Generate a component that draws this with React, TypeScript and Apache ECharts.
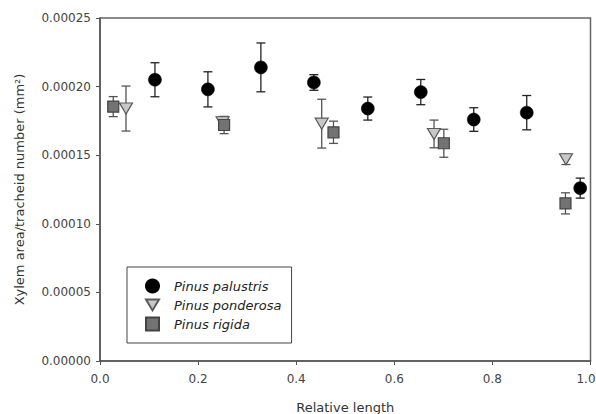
import React, { useEffect, useRef } from "react";
import * as echarts from "echarts";

const xTicks = [0, 0.2, 0.4, 0.6, 0.8, 1.0];
const yTicks = [0, 0.00005, 0.0001, 0.00015, 0.0002, 0.00025];

const palustrisX = [0.112, 0.22, 0.328, 0.436, 0.546, 0.654, 0.762, 0.87, 0.979];
const palustrisY = [0.000205, 0.000198, 0.000214, 0.000203, 0.000184, 0.000196, 0.000176, 0.000181, 0.000126];
const palustrisErr = [0.0000124, 0.0000128, 0.0000178, 0.0000057, 0.0000084, 0.0000092, 0.0000086, 0.0000125, 0.0000073];

const ponderosaX = [0.053, 0.25, 0.452, 0.681, 0.95];
const ponderosaY = [0.000184, 0.000174, 0.000173, 0.0001655, 0.000147];
const ponderosaErr = [0.0000164, 0.000004, 0.0000178, 0.0000101, 0.0000038];

const rigidaX = [0.027, 0.253, 0.476, 0.701, 0.949];
const rigidaY = [0.0001854, 0.000172, 0.0001667, 0.0001587, 0.0001149];
const rigidaErr = [0.0000073, 0.0000063, 0.0000081, 0.0000102, 0.0000077];

const seriesNames = ["Pinus palustris", "Pinus ponderosa", "Pinus rigida"];

const FONT = "DejaVu Sans";
const TRI_DOWN = "path://M0,0 L12,0 L6,10 Z";

function errData(xs: number[], ys: number[], es: number[]) {
  return xs.map((x, i) => [x, ys[i] - es[i], ys[i] + es[i]]);
}

function errSeries(data: number[][], color: string) {
  return {
    type: "custom",
    z: 1,
    silent: true,
    encode: { x: 0, y: [1, 2] },
    data,
    renderItem: (params: any, api: any) => {
      const x = api.value(0);
      const lo = api.coord([x, api.value(1)]);
      const hi = api.coord([x, api.value(2)]);
      const hw = 4.5;
      const style = { stroke: color, lineWidth: 1.3 };
      return {
        type: "group",
        children: [
          { type: "line", shape: { x1: lo[0], y1: lo[1], x2: hi[0], y2: hi[1] }, style },
          { type: "line", shape: { x1: lo[0] - hw, y1: lo[1], x2: lo[0] + hw, y2: lo[1] }, style },
          { type: "line", shape: { x1: hi[0] - hw, y1: hi[1], x2: hi[0] + hw, y2: hi[1] }, style },
        ],
      };
    },
  };
}

export default function App() {
  const ref = useRef<HTMLDivElement>(null);
  useEffect(() => {
    if (!ref.current) return;
    const chart = echarts.init(ref.current, undefined, { renderer: "svg" });
    const lastX = xTicks[xTicks.length - 1];
    chart.setOption({
      animation: false,
      backgroundColor: "#ffffff",
      grid: {
        left: 100,
        right: 5.5,
        top: 18,
        bottom: 53,
        containLabel: false,
        outerBoundsMode: "none",
        show: true,
        borderColor: "#666",
        borderWidth: 1.5,
      },
      legend: {
        orient: "vertical",
        left: 127,
        top: 267,
        padding: [11.5, 10, 11.5, 18],
        itemWidth: 13,
        itemHeight: 13,
        itemGap: 5,
        backgroundColor: "#fff",
        borderColor: "#444",
        borderWidth: 1,
        data: seriesNames,
        textStyle: {
          fontFamily: FONT,
          fontStyle: "italic",
          fontSize: 13,
          color: "#222",
          padding: [0, 0, 0, 10],
        },
      },
      xAxis: {
        type: "value",
        min: xTicks[0],
        max: lastX,
        interval: 0.2,
        name: "Relative length",
        nameLocation: "middle",
        nameGap: 40,
        nameTextStyle: { fontFamily: FONT, fontSize: 13, color: "#333" },
        axisLine: { show: true, lineStyle: { color: "#555", width: 1.5 } },
        axisTick: { show: true, inside: false, length: 4, lineStyle: { color: "#555" } },
        axisLabel: {
          fontFamily: FONT,
          fontSize: 12,
          color: "#444",
          margin: 12,
          showMaxLabel: true,
          showMinLabel: true,
          formatter: (v: number) =>
            Math.abs(v - lastX) < 1e-9 ? "{end|" + v.toFixed(1) + "}" : v.toFixed(1),
          rich: {
            end: { fontFamily: FONT, fontSize: 12, color: "#444", padding: [0, 9, 0, 0] },
          },
        },
        splitLine: { show: false },
      },
      yAxis: {
        type: "value",
        min: yTicks[0],
        max: yTicks[yTicks.length - 1],
        interval: 0.00005,
        name: "Xylem area/tracheid number (mm²)",
        nameLocation: "middle",
        nameGap: 74,
        nameTextStyle: { fontFamily: FONT, fontSize: 13, color: "#333" },
        axisLine: { show: true, lineStyle: { color: "#555", width: 1.5 } },
        axisTick: { show: true, inside: false, length: 4, lineStyle: { color: "#555" } },
        axisLabel: {
          fontFamily: FONT,
          fontSize: 12,
          color: "#444",
          margin: 9,
          formatter: (v: number) => v.toFixed(5),
        },
        splitLine: { show: false },
      },
      series: [
        errSeries(errData(palustrisX, palustrisY, palustrisErr), "#222"),
        errSeries(errData(ponderosaX, ponderosaY, ponderosaErr), "#555"),
        errSeries(errData(rigidaX, rigidaY, rigidaErr), "#555"),
        {
          name: seriesNames[0],
          type: "scatter",
          z: 3,
          symbol: "circle",
          symbolSize: 13,
          itemStyle: { color: "#000", borderColor: "#000", borderWidth: 0.5, opacity: 1 },
          data: palustrisX.map((x, i) => [x, palustrisY[i]]),
        },
        {
          name: seriesNames[1],
          type: "scatter",
          z: 3,
          symbol: TRI_DOWN,
          symbolSize: [13, 11],
          itemStyle: { color: "#c8c8c8", borderColor: "#5a5a5a", borderWidth: 1.2, opacity: 1 },
          data: ponderosaX.map((x, i) => [x, ponderosaY[i]]),
        },
        {
          name: seriesNames[2],
          type: "scatter",
          z: 3,
          symbol: "rect",
          symbolSize: 11,
          itemStyle: { color: "#737373", borderColor: "#444", borderWidth: 1.2, opacity: 1 },
          data: rigidaX.map((x, i) => [x, rigidaY[i]]),
        },
      ],
    });
    return () => chart.dispose();
  }, []);
  return (
    <div
      ref={ref}
      style={{ position: "fixed", left: 0, top: 0, width: 596, height: 414 }}
    />
  );
}
